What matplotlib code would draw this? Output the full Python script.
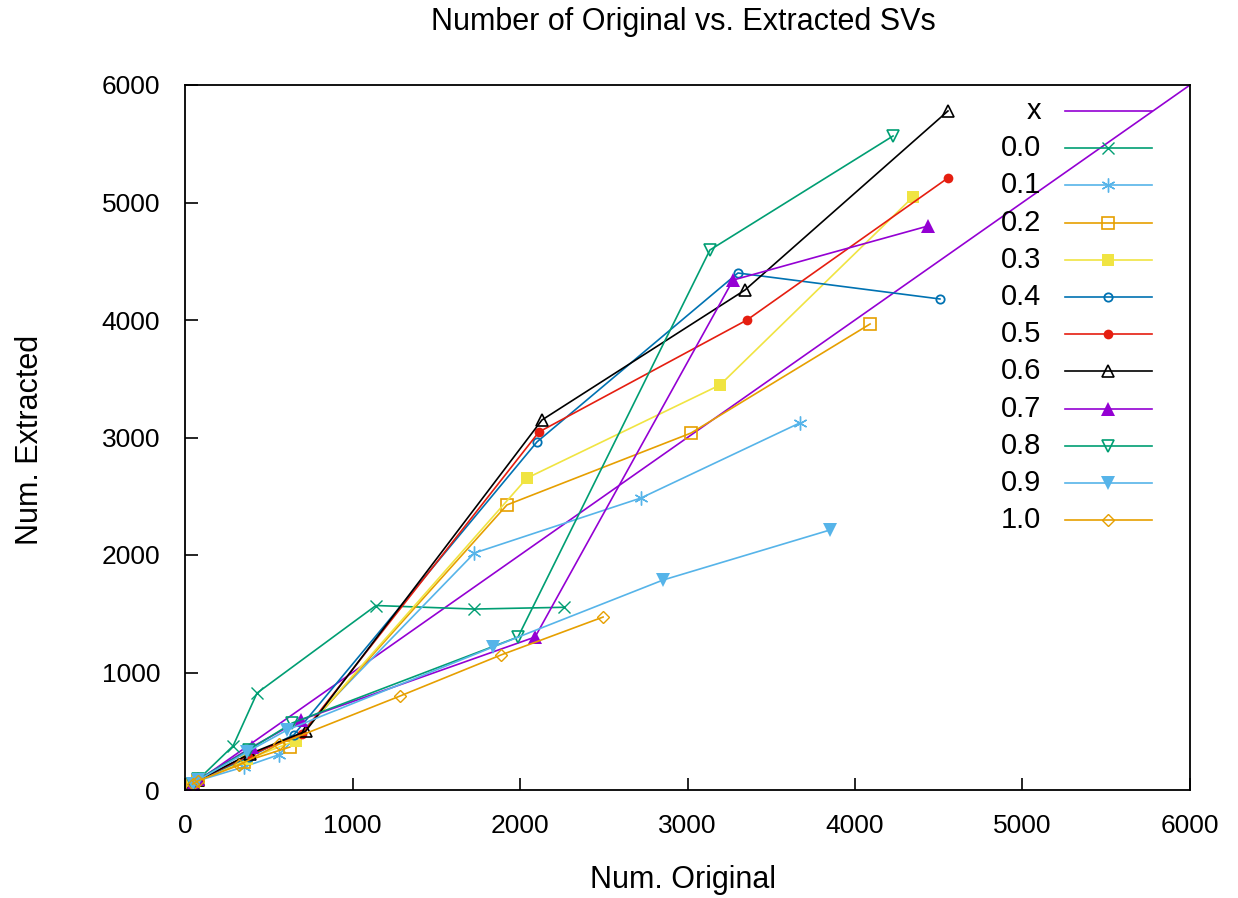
import matplotlib
matplotlib.use("Agg")
import matplotlib.pyplot as plt
import numpy as np

plt.rcParams['font.family'] = ['Liberation Sans', 'DejaVu Sans']

# ---- data ----
labels = ["0.0", "0.1", "0.2", "0.3", "0.4", "0.5", "0.6", "0.7", "0.8", "0.9", "1.0"]

x00 = [45, 80, 287, 430, 1140, 1728, 2262]
y00 = [55, 90, 375, 825, 1570, 1540, 1555]
x01 = [45, 80, 350, 560, 1728, 2722, 3672]
y01 = [50, 80, 196, 300, 2017, 2485, 3125]
x02 = [45, 80, 350, 627, 1922, 3021, 4090]
y02 = [50, 85, 240, 366, 2426, 3038, 3966]
x03 = [45, 80, 370, 660, 2042, 3194, 4346]
y03 = [50, 85, 260, 420, 2655, 3447, 5047]
x04 = [45, 80, 380, 650, 2101, 3301, 4507]
y04 = [50, 85, 280, 470, 2962, 4400, 4179]
x05 = [45, 80, 390, 700, 2113, 3355, 4555]
y05 = [50, 85, 300, 480, 3047, 4000, 5209]
x06 = [45, 80, 390, 720, 2131, 3343, 4555]
y06 = [50, 85, 310, 500, 3149, 4255, 5779]
x07 = [45, 80, 400, 690, 2090, 3272, 4436]
y07 = [50, 90, 366, 596, 1302, 4340, 4800]
x08 = [45, 80, 380, 640, 1988, 3134, 4227]
y08 = [50, 90, 340, 570, 1302, 4596, 5566]
x09 = [45, 80, 370, 610, 1839, 2854, 3851]
y09 = [50, 85, 323, 511, 1217, 1787, 2213]
x10 = [45, 80, 320, 560, 1284, 1886, 2496]
y10 = [50, 80, 210, 390, 800, 1149, 1472]

xs = [x00, x01, x02, x03, x04, x05, x06, x07, x08, x09, x10]
ys = [y00, y01, y02, y03, y04, y05, y06, y07, y08, y09, y10]

xticks = [0, 1000, 2000, 3000, 4000, 5000, 6000]
yticks = [0, 1000, 2000, 3000, 4000, 5000, 6000]

# ---- style (gnuplot-like) ----
purple, green, cyan, orange = "#9400D3", "#009E73", "#56B4E9", "#E69F00"
yellow, blue, red, black = "#F0E442", "#0072B2", "#E51E10", "#000000"
colors = [green, cyan, orange, yellow, blue, red, black, purple, green, cyan, orange]
asterisk = (6, 2, 0)
markers = [dict(marker='x', ms=9, mew=1.0),
           dict(marker=asterisk, ms=10, mew=1.0),
           dict(marker='s', ms=9, mfc='none', mew=1.2),
           dict(marker='s', ms=9, mew=0),
           dict(marker='o', ms=6, mfc='none', mew=1.3),
           dict(marker='o', ms=7, mew=0),
           dict(marker='^', ms=9, mfc='none', mew=1.2),
           dict(marker='^', ms=10, mew=0),
           dict(marker='v', ms=9, mfc='none', mew=1.2),
           dict(marker='v', ms=10, mew=0),
           dict(marker='D', ms=6, mfc='none', mew=1.0)]

W, H = 1238, 898
fig = plt.figure(figsize=(W/100, H/100), dpi=100)
ax = fig.add_axes([185/W, 1-790/H, (1190-185)/W, (790-85)/H])

# y = x reference line
fx = np.linspace(0, 6000, 101)
ax.plot(fx, fx, color=purple, lw=1.2)

for x, y, c, m in zip(xs, ys, colors, markers):
    ax.plot(x, y, color=c, lw=1.2, mec=c, **m)

ax.set_xlim(0, 6000)
ax.set_ylim(0, 6000)
ax.set_xticks(xticks)
ax.set_yticks(yticks)
ax.tick_params(direction='in', length=9, width=1.2, labelsize=19)
ax.tick_params(axis='x', pad=17)
ax.tick_params(axis='y', pad=18)
for s in ax.spines.values():
    s.set_linewidth(1.3)

fig.text(683/W, 1-22/H, "Number of Original vs. Extracted SVs", fontsize=22,
         ha='center', va='center')
fig.text(683/W, 1-880/H, "Num. Original", fontsize=22, ha='center', va='center')
fig.text(30/W, 1-440/H, "Num. Extracted", fontsize=22, ha='center', va='center',
         rotation=90)

# ---- manual gnuplot-style key ----
tr = ax.transAxes
def ay(py):
    return (790 - py) / 705
def axx(px):
    return (px - 185) / 1005
leg_labels = ["x"] + labels
leg_colors = [purple] + colors
leg_markers = [None] + markers
for i, (lab, c, m) in enumerate(zip(leg_labels, leg_colors, leg_markers)):
    yy = ay(111 + i * 37.2)
    ax.text(axx(1041), yy, lab, transform=tr, ha='right', va='center', fontsize=21)
    ax.plot([axx(1065), axx(1152)], [yy, yy], transform=tr, color=c, lw=1.2, clip_on=False)
    if m is not None:
        ax.plot([axx(1108)], [yy], transform=tr, color=c, mec=c, ls='none', clip_on=False, **m)

fig.savefig("out.png", dpi=100)
